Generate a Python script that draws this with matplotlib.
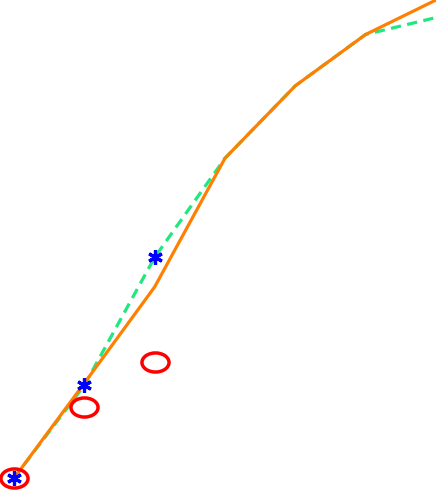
import matplotlib
matplotlib.use("Agg")
import matplotlib.pyplot as plt
from matplotlib.path import Path
from matplotlib.transforms import Affine2D

# data (x steps of 1, y in the same units)
x_vals = [0, 1, 2, 3, 4, 5, 6]
orange_y = [0.0, 1.35, 2.72, 4.55, 5.58, 6.31, 6.80]
green_y = [0.0, 1.32, 3.14, 4.55, 5.58, 6.31, 6.55]

star_x = [0, 1, 2]
star_y = [0.0, 1.32, 3.14]

circle_x = [0, 1, 2]
circle_y = [0.0, 1.01, 1.65]

# wide open circle, like the reference
ellipse = Path.unit_circle().transformed(Affine2D().scale(1.42, 1.0))

fig = plt.figure(figsize=(4.36, 4.90), dpi=100)
ax = fig.add_axes([0, 0, 1, 1])

ax.plot(x_vals, green_y, color="#1ee87f", linestyle="--", linewidth=2.3,
        dashes=(3.2, 2.0))
ax.plot(x_vals, orange_y, color="#ff8000", linewidth=2.3)
ax.plot(circle_x, circle_y, linestyle="none", marker=ellipse,
        markersize=19.5, markerfacecolor="none", markeredgecolor="#ff0000",
        markeredgewidth=2.5)
ax.plot(star_x, star_y, linestyle="none", marker=(6, 2, 0), markersize=10.5,
        markeredgecolor="#0000ff", markeredgewidth=2.3)

ax.set_xlim(-0.2, 6.0)
ax.set_ylim(-0.17, 6.80)
ax.axis("off")

fig.savefig("out.png", dpi=100)
